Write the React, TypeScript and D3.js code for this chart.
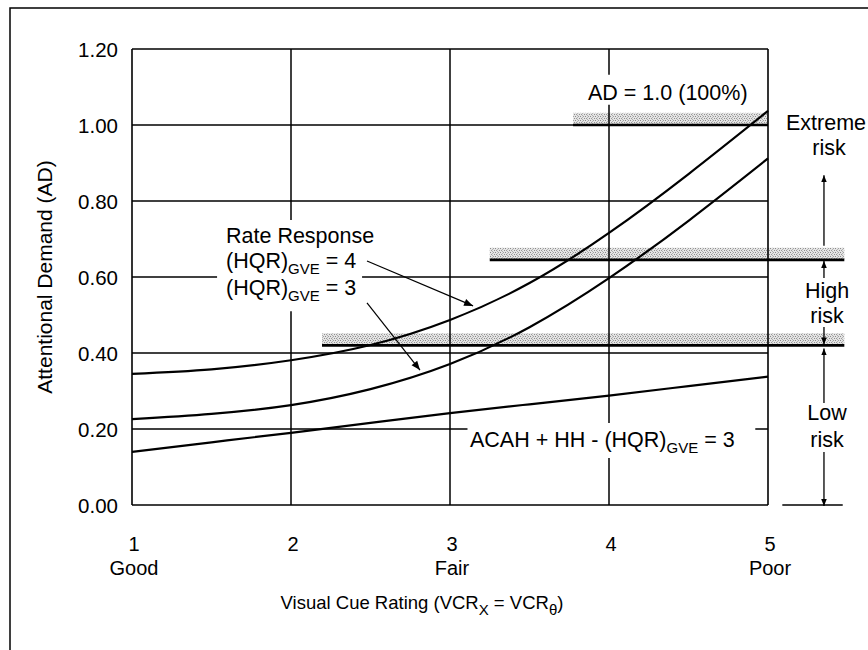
import React from "react";
import * as d3 from "d3";

const W = 868;
const H = 650;
const FONT = "'Liberation Sans', Arial, Helvetica, sans-serif";

// Data
const xCats = [1, 1.5, 2, 2.5, 3, 3.5, 4, 4.5, 5];
const hqr4 = [0.345, 0.357, 0.381, 0.421, 0.487, 0.584, 0.716, 0.871, 1.037];
const hqr3 = [0.226, 0.24, 0.263, 0.305, 0.371, 0.468, 0.597, 0.748, 0.912];
const acah = [0.14, 0.165, 0.19, 0.216, 0.242, 0.265, 0.288, 0.313, 0.338];

const yTicks = [0, 0.2, 0.4, 0.6, 0.8, 1.0, 1.2];
const xTicks = [1, 2, 3, 4, 5];
const xSubLabels: Record<number, string> = { 1: "Good", 3: "Fair", 5: "Poor" };

// gridline segments (data units)
const hGrid: { y: number; segs: [number, number][] }[] = [
  { y: 0.2, segs: [[1, 3.11], [4.92, 5]] },
  { y: 0.4, segs: [[1, 5]] },
  { y: 0.6, segs: [[1, 1.535], [2.447, 5]] },
  { y: 0.8, segs: [[1, 5]] },
  { y: 1.0, segs: [[1, 5]] },
];
const vGrid: { x: number; segs: [number, number][] }[] = [
  { x: 2, segs: [[0, 0.51], [0.75, 1.2]] },
  { x: 3, segs: [[0, 1.2]] },
  { x: 4, segs: [[0, 0.124], [0.216, 1.053], [1.132, 1.2]] },
];

// risk threshold bands: [xStart, xEnd, yValue]
const bands: [number, number, number][] = [
  [3.774, 5, 1.0],
  [3.25, 5.48, 0.645],
  [2.195, 5.48, 0.42],
];
const bandThick = 0.032;

const riskX = 5.352;

export default function App() {
  const x = d3.scaleLinear().domain([1, 5]).range([132, 768]);
  const y = d3.scaleLinear().domain([0, 1.2]).range([505, 49]);

  const line = d3
    .line<number>()
    .x((_, i) => x(xCats[i]))
    .y((d) => y(d))
    .curve(d3.curveNatural);

  const sub = (t: string) => (
    <tspan fontSize={15} dy={6}>
      {t}
    </tspan>
  );

  const riskArrow = (y1: number, y2: number, key: string) => (
    <line
      key={key}
      x1={x(riskX)}
      x2={x(riskX)}
      y1={y1}
      y2={y2}
      stroke="#000"
      strokeWidth={1.3}
      markerEnd="url(#ah)"
    />
  );

  const AF = 21.5;

  return (
    <svg
      width={W}
      height={H}
      style={{ position: "absolute", left: 0, top: 0, background: "#fff" }}
      fontFamily={FONT}
    >
      <defs>
        <marker id="ah" viewBox="0 0 10 10" refX="10" refY="5" markerWidth="7" markerHeight="7" orient="auto-start-reverse" markerUnits="userSpaceOnUse">
          <path d="M0,1 L10,5 L0,9 Z" fill="#000" />
        </marker>
        <marker id="ah2" viewBox="0 0 10 10" refX="10" refY="5" markerWidth="11" markerHeight="9" orient="auto" markerUnits="userSpaceOnUse">
          <path d="M0,1 L10,5 L0,9 Z" fill="#000" />
        </marker>
        <pattern id="stip" width="5" height="4" patternUnits="userSpaceOnUse">
          <rect width="5" height="4" fill="#e4e4e4" />
          <rect x="0" y="0" width="1" height="1" fill="#8a8a8a" />
          <rect x="3" y="0" width="1" height="1" fill="#a0a0a0" />
          <rect x="1" y="2" width="1" height="1" fill="#999" />
          <rect x="4" y="2" width="1" height="1" fill="#8f8f8f" />
          <rect x="2" y="1" width="1" height="1" fill="#b5b5b5" />
          <rect x="2" y="3" width="1" height="1" fill="#b0b0b0" />
        </pattern>
      </defs>

      {/* outer frame */}
      <rect x={10} y={8} width={900} height={700} fill="none" stroke="#000" strokeWidth={1.5} />

      {/* bands */}
      {bands.map(([a, b, v], i) => (
        <g key={"band" + i}>
          <rect
            x={x(a)}
            y={y(v + bandThick)}
            width={x(b) - x(a)}
            height={y(v) - y(v + bandThick)}
            fill="url(#stip)"
          />
          <line x1={x(a)} x2={x(b)} y1={y(v)} y2={y(v)} stroke="#000" strokeWidth={2.6} />
        </g>
      ))}

      {/* gridlines */}
      {hGrid.map((g) =>
        g.segs.map(([a, b], j) => (
          <line key={`h${g.y}-${j}`} x1={x(a)} x2={x(b)} y1={y(g.y)} y2={y(g.y)} stroke="#000" strokeWidth={1.5} />
        ))
      )}
      {vGrid.map((g) =>
        g.segs.map(([a, b], j) => (
          <line key={`v${g.x}-${j}`} x1={x(g.x)} x2={x(g.x)} y1={y(a)} y2={y(b)} stroke="#000" strokeWidth={1.5} />
        ))
      )}

      {/* plot frame */}
      <line x1={x(1)} x2={x(5)} y1={y(1.2)} y2={y(1.2)} stroke="#000" strokeWidth={1.6} />
      <line x1={x(1)} x2={x(5)} y1={y(0)} y2={y(0)} stroke="#000" strokeWidth={1.6} />
      <line x1={x(1)} x2={x(1)} y1={y(0)} y2={y(1.2)} stroke="#000" strokeWidth={1.6} />
      <line x1={x(5)} x2={x(5)} y1={y(0)} y2={y(1.2)} stroke="#000" strokeWidth={1.6} />
      <line x1={x(5.09)} x2={x(5.47)} y1={y(0)} y2={y(0)} stroke="#000" strokeWidth={1.4} />

      {/* curves */}
      {[hqr4, hqr3, acah].map((s, i) => (
        <path key={"c" + i} d={line(s) || ""} fill="none" stroke="#000" strokeWidth={2.2} />
      ))}

      {/* y ticks */}
      {yTicks.map((t) => (
        <text key={"yt" + t} x={118} y={y(t) + 8} textAnchor="end" fontSize={20.5}>
          {t.toFixed(2)}
        </text>
      ))}
      {/* x ticks */}
      {xTicks.map((t) => (
        <g key={"xt" + t}>
          <text x={x(t) + 2} y={551} textAnchor="middle" fontSize={20}>
            {t}
          </text>
          {xSubLabels[t] && (
            <text x={x(t) + 2} y={575} textAnchor="middle" fontSize={20}>
              {xSubLabels[t]}
            </text>
          )}
        </g>
      ))}

      {/* axis titles */}
      <text
        transform={`translate(52, ${(y(0) + y(1.2)) / 2}) rotate(-90)`}
        textAnchor="middle"
        fontSize={21}
      >
        Attentional Demand (AD)
      </text>
      <text x={422} y={609} textAnchor="middle" fontSize={18.5}>
        Visual Cue Rating (VCR{sub("X")}
        <tspan dy={-6}> = VCR</tspan>
        {sub("θ")}
        <tspan dy={-6}>)</tspan>
      </text>

      {/* annotations */}
      <text x={588} y={100} fontSize={AF}>
        AD = 1.0 (100%)
      </text>
      <text x={226} y={243} fontSize={AF}>
        Rate Response
      </text>
      <text x={226} y={268} fontSize={AF}>
        (HQR){sub("GVE")}
        <tspan dy={-6}> = 4</tspan>
      </text>
      <text x={226} y={295} fontSize={AF}>
        (HQR){sub("GVE")}
        <tspan dy={-6}> = 3</tspan>
      </text>
      <text x={470} y={447} fontSize={AF}>
        ACAH + HH - (HQR){sub("GVE")}
        <tspan dy={-6}> = 3</tspan>
      </text>

      {/* pointer arrows */}
      <line x1={x(2.478)} y1={y(0.642)} x2={x(3.145)} y2={y(0.524)} stroke="#000" strokeWidth={1.2} markerEnd="url(#ah2)" />
      <line x1={x(2.478)} y1={y(0.532)} x2={x(2.811)} y2={y(0.355)} stroke="#000" strokeWidth={1.2} markerEnd="url(#ah2)" />

      {/* risk labels */}
      <text x={826} y={130} textAnchor="middle" fontSize={AF}>Extreme</text>
      <text x={829} y={155} textAnchor="middle" fontSize={AF}>risk</text>
      <text x={827} y={298} textAnchor="middle" fontSize={AF}>High</text>
      <text x={827} y={323} textAnchor="middle" fontSize={AF}>risk</text>
      <text x={827} y={420} textAnchor="middle" fontSize={AF}>Low</text>
      <text x={827} y={447} textAnchor="middle" fontSize={AF}>risk</text>

      {riskArrow(y(0.645 + bandThick) - 2, y(0.868), "e")}
      {riskArrow(278, y(0.645) + 1, "h1")}
      {riskArrow(327, y(0.42) - 1, "h2")}
      {riskArrow(403, y(0.42) + 3, "l1")}
      {riskArrow(452, y(0) + 1, "l2")}
    </svg>
  );
}
